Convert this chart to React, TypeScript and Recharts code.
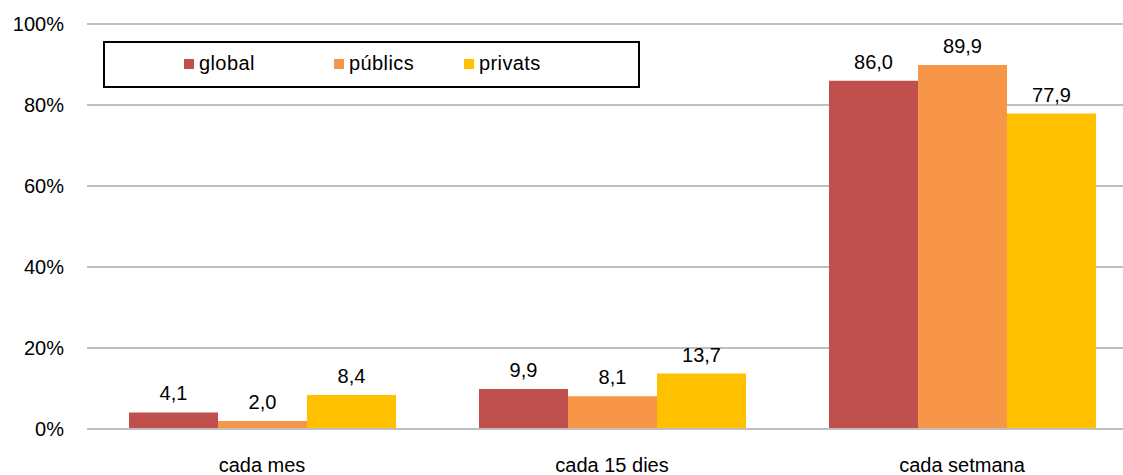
import { BarChart, Bar, XAxis, YAxis, CartesianGrid, LabelList } from "recharts";

const categories = ["cada mes", "cada 15 dies", "cada setmana"];
const globalValues = [4.1, 9.9, 86.0];
const publicsValues = [2.0, 8.1, 89.9];
const privatsValues = [8.4, 13.7, 77.9];
const yTicks = [0, 20, 40, 60, 80, 100];

const series = [
  { key: "global", name: "global", color: "#C0504D" },
  { key: "publics", name: "públics", color: "#F79646" },
  { key: "privats", name: "privats", color: "#FFC000" },
];

const data = categories.map((cat, i) => ({
  cat,
  global: globalValues[i],
  publics: publicsValues[i],
  privats: privatsValues[i],
}));

const FONT = "'Liberation Sans', Arial, sans-serif";
const textStyle = { fill: "#000", fontSize: 20, fontFamily: FONT };

const fmt = (v: any) => Number(v).toFixed(1).replace(".", ",");

// legend box drawn over the plot like the original
const LegendBox = () => (
  <div
    style={{
      position: "absolute",
      left: 103,
      top: 41,
      width: 537,
      height: 47,
      boxSizing: "border-box",
      border: "2px solid #000",
      background: "#fff",
      fontFamily: FONT,
      fontSize: 20,
      color: "#000",
    }}
  >
    {series.map((s, i) => (
      <div
        key={s.key}
        style={{
          position: "absolute",
          left: [79, 229, 359][i],
          top: 9,
          display: "flex",
          alignItems: "center",
          letterSpacing: 0.4,
        }}
      >
        <span style={{ width: 10, height: 10, background: s.color, display: "inline-block", marginRight: 5 }} />
        <span>{s.name}</span>
      </div>
    ))}
  </div>
);

export default function App() {
  return (
    <div style={{ width: 1123, height: 475, overflow: "hidden", position: "relative" }}>
      <style>{`body{margin:0}`}</style>
      <BarChart
        width={1137}
        height={475}
        data={data}
        margin={{ top: 24, right: 0, bottom: 0, left: 0 }}
        barCategoryGap={42}
        barGap={0}
      >
        <CartesianGrid vertical={false} stroke="#BFBFBF" strokeWidth={2} />
        <XAxis
          dataKey="cat"
          height={46}
          tickLine={false}
          axisLine={{ stroke: "#BFBFBF", strokeWidth: 2 }}
          tickSize={0}
          tickMargin={29}
          tick={textStyle}
        />
        <YAxis
          width={87}
          domain={[0, 100]}
          ticks={yTicks}
          tickFormatter={(v) => `${v}%`}
          axisLine={false}
          tickLine={false}
          tickSize={0}
          tickMargin={23}
          tick={textStyle}
        />
        {series.map((s) => (
          <Bar key={s.key} dataKey={s.key} name={s.name} fill={s.color} isAnimationActive={false}>
            <LabelList dataKey={s.key} position="top" offset={12} formatter={fmt} style={textStyle} />
          </Bar>
        ))}
      </BarChart>
      <LegendBox />
    </div>
  );
}
